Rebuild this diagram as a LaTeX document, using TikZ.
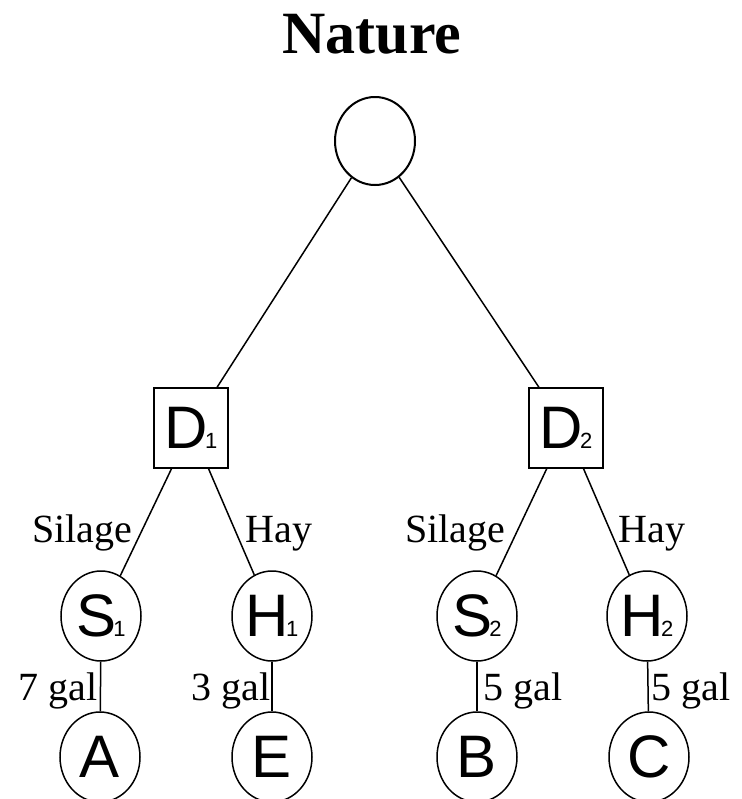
\documentclass[tikz,border=0pt]{standalone}
\usepackage{fontspec}
\setmainfont{Liberation Serif}
\newfontfamily\nodefont{Liberation Sans}
\usetikzlibrary{shapes.geometric}
\newcommand{\idx}[1]{\kern-1.5pt{\fontsize{11}{11}\selectfont #1}}

\begin{document}
\begin{tikzpicture}[
            x=0.5pt, y=-0.5pt,
            chance/.style={
                ellipse,
                draw=black,
                line width=0.75pt,
                minimum width=40pt,
                minimum height=45pt,
                inner sep=0pt,
                font=\nodefont\fontsize{30}{30}\selectfont
            },
            decision/.style={
                rectangle,
                draw=black,
                line width=0.75pt,
                minimum width=37pt,
                minimum height=40pt,
                inner sep=0pt,
                font=\nodefont\fontsize{30}{30}\selectfont
            },
            branch/.style={
                anchor=base,
                inner sep=0pt,
                font=\fontsize{20}{20}\selectfont
            },
            link/.style={line width=0.75pt}
        ]
        % page frame (bottom row is cut off as in the scan)
        \clip (0,0) rectangle (741,799);

        % Title
        \node[anchor=base, inner sep=0pt, font=\bfseries\fontsize{30}{30}\selectfont] (title) at (372,53) {Nature};

        % Nature node
        \node[chance, line width=1pt, minimum width=40pt, minimum height=44pt] (nature) at (375,141) {};

        % Decision nodes
        \node[decision] (d1) at (191,428) {D\idx{1}};
        \node[decision] (d2) at (566,428) {D\idx{2}};

        % Choice nodes
        \node[chance] (s1) at (101,616) {S\idx{1}};
        \node[chance] (h1) at (272,616) {H\idx{1}};
        \node[chance] (s2) at (477,616) {S\idx{2}};
        \node[chance] (h2) at (647,616) {H\idx{2}};

        % Outcome nodes
        \node[chance] (oa) at (100,757) {A};
        \node[chance] (oe) at (272,757) {E};
        \node[chance] (ob) at (477,757) {B};
        \node[chance] (oc) at (649,757) {C};

        % Connectors
        \draw[link] (nature) -- (d1);
        \draw[link] (nature) -- (d2);
        \draw[link] (d1) -- (s1);
        \draw[link] (d1) -- (h1);
        \draw[link] (d2) -- (s2);
        \draw[link] (d2) -- (h2);
        \draw[link] (s1) -- (oa);
        \draw[link] (h1) -- (oe);
        \draw[link] (s2) -- (ob);
        \draw[link] (h2) -- (oc);

        % Branch labels
        \node[branch] (ls1) at (82,542) {Silage};
        \node[branch] (lh1) at (279,542) {Hay};
        \node[branch] (ls2) at (455,542) {Silage};
        \node[branch] (lh2) at (652,542) {Hay};

        \node[branch] (ga) at (58,700) {7 gal};
        \node[branch] (ge) at (231,700) {3 gal};
        \node[branch] (gb) at (523,700) {5 gal};
        \node[branch] (gc) at (691,700) {5 gal};

        \end{tikzpicture}
\end{document}
